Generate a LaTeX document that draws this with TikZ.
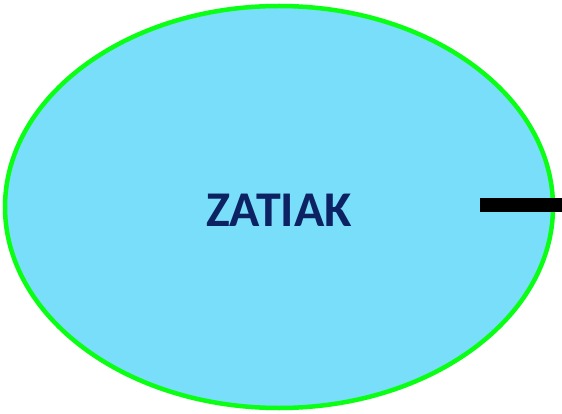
\documentclass[tikz,border=0pt]{standalone}
\usepackage{fontspec}
\setmainfont{Carlito}
\usetikzlibrary{shapes.geometric}
\definecolor{skyfill}{HTML}{79DEFA}
\definecolor{rimgreen}{HTML}{0AFF14}
\definecolor{navytext}{HTML}{0C2262}
\tikzset{
  blob/.style={ellipse, draw=rimgreen, fill=skyfill, line width=4.5pt, inner sep=0pt,
    minimum width=548pt, minimum height=402pt},
  caption/.style={text=navytext, font=\fontsize{50}{54}\selectfont\bfseries},
  stub/.style={line width=14pt, black}
}
\begin{document}
\begin{tikzpicture}[x=1pt,y=-1pt]
	\useasboundingbox (0,0) rectangle (562,414);

	% the ellipse
	\node[blob] (zatiak) at (279,207) {};
	\node[caption] (label) at (279,210) {ZATIAK};

	% the stub on the right
	\coordinate (stubin) at (480,205);
	\coordinate (stubout) at (562,205);
	\draw[stub] (stubin) -- (stubout);

\end{tikzpicture}
\end{document}
